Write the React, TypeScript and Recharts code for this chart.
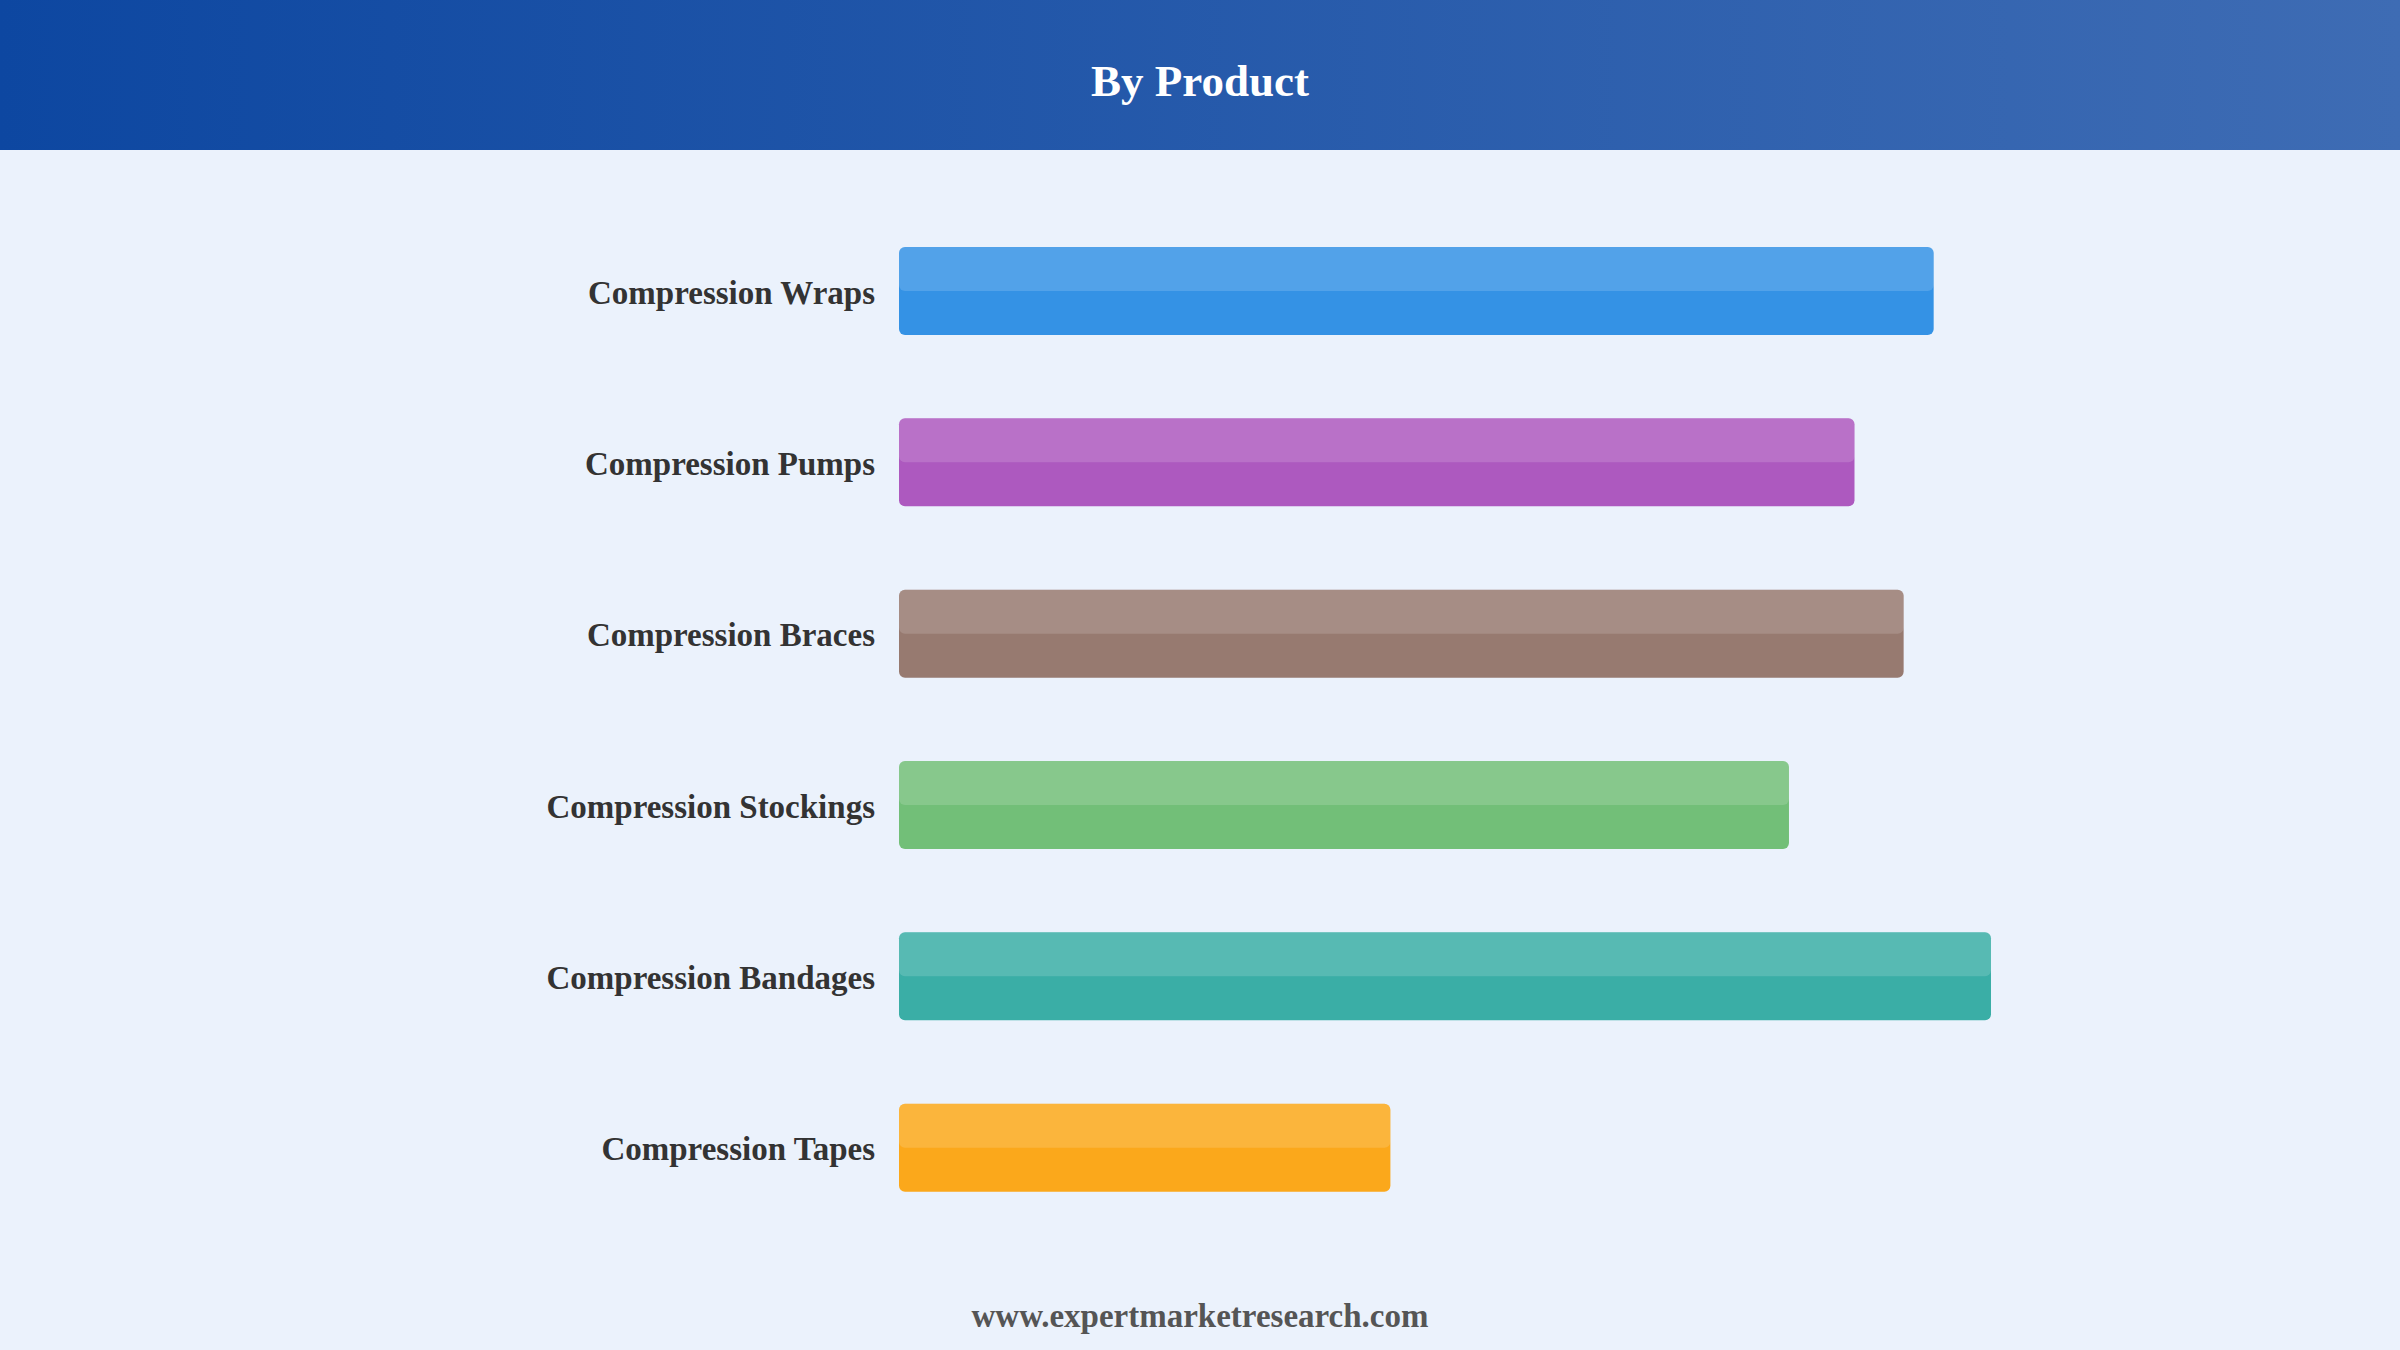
import React from "react";
import { BarChart, Bar, XAxis, YAxis, Cell } from "recharts";

const categories = [
  "Compression Wraps",
  "Compression Pumps",
  "Compression Braces",
  "Compression Stockings",
  "Compression Bandages",
  "Compression Tapes",
];
const shares = [18.95, 17.5, 18.4, 16.3, 20.0, 9.0];
const barColors = ["#3492E5", "#AD59BF", "#977A70", "#72BF78", "#3AAEA6", "#FBA81B"];

const title = "By Product";
const footer = "www.expertmarketresearch.com";

const data = categories.map((name, i) => ({ name, value: shares[i] }));

const FONT = '"Liberation Serif", "Times New Roman", serif';

const TwoToneBar = (props: any) => {
  const { x, y, width, height, fill } = props;
  if (!width || width <= 0) return null;
  const r = 6;
  return (
    <g>
      <rect x={x} y={y} width={width} height={height} rx={r} ry={r} fill={fill} />
      <rect x={x} y={y} width={width} height={height / 2} rx={r} ry={r} fill="#ffffff" fillOpacity={0.15} />
    </g>
  );
};

const LabelTick = (props: any) => {
  const { x, y, payload } = props;
  return (
    <text
      x={x}
      y={y}
      dy={13}
      textAnchor="end"
      fill="#333333"
      fontSize={33}
      fontWeight="bold"
      fontFamily={FONT}
    >
      {payload.value}
    </text>
  );
};

export default function App() {
  return (
    <div
      style={{
        position: "absolute",
        left: 0,
        top: 0,
        width: 2400,
        height: 1350,
        background: "#EBF2FC",
        overflow: "hidden",
        fontFamily: FONT,
      }}
    >
      <div
        style={{
          position: "absolute",
          left: 0,
          top: 0,
          width: 2400,
          height: 150,
          background: "linear-gradient(90deg, #0D47A1 0%, #3E6CB4 100%)",
        }}
      >
        <div
          style={{
            position: "absolute",
            left: 0,
            top: 56,
            width: 2400,
            textAlign: "center",
            color: "#ffffff",
            fontWeight: "bold",
            fontSize: 45,
            lineHeight: "50px",
          }}
        >
          {title}
        </div>
      </div>
      <div style={{ position: "absolute", left: 0, top: 150 }}>
        <BarChart
          width={2400}
          height={1100}
          layout="vertical"
          data={data}
          margin={{ top: 55, right: 136, bottom: 17, left: 0 }}
        >
          <XAxis type="number" domain={[0, 25]} hide />
          <YAxis
            type="category"
            dataKey="name"
            width={899}
            axisLine={false}
            tickLine={false}
            tickSize={0}
            tickMargin={24}
            interval={0}
            tick={<LabelTick />}
          />
          <Bar dataKey="value" barSize={88} isAnimationActive={false} shape={<TwoToneBar />}>
            {data.map((d, i) => (
              <Cell key={d.name} fill={barColors[i]} />
            ))}
          </Bar>
        </BarChart>
      </div>
      <div
        style={{
          position: "absolute",
          left: 0,
          top: 1296,
          width: 2400,
          textAlign: "center",
          color: "#555555",
          fontWeight: "bold",
          fontSize: 33,
          lineHeight: "40px",
        }}
      >
        {footer}
      </div>
    </div>
  );
}
